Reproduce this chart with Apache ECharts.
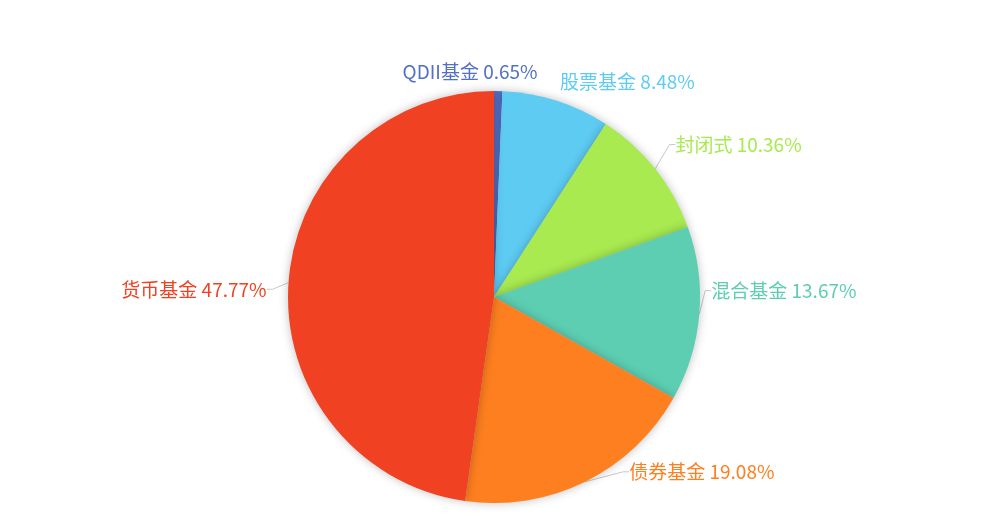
<!DOCTYPE html>
<html><head><meta charset="utf-8">
<script src="https://cdn.jsdelivr.net/npm/echarts@6/dist/echarts.min.js"></script>
<style>html,body{margin:0;padding:0;background:#fff}#c{width:1000px;height:521px}</style>
</head><body><div id="c"></div>
<script>
const categories = ['QDII基金', '股票基金', '封闭式', '混合基金', '债券基金', '货币基金'];
const values = [0.65, 8.48, 10.36, 13.67, 19.08, 47.77];
const colors = ['#5470c6', '#5ecbf3', '#a8ea50', '#5dceb2', '#fe7f1f', '#f04123'];
// label nudges (dx, dy) relative to ECharts' own outside-label placement
const labelNudgeX = [-107, -35, 0, -12, 25, 7];
const labelNudgeY = [-1, -12, -13, -25, -26, 8];
const labelLineVisible = [false, false, true, true, true, true];

const chart = echarts.init(document.getElementById('c'));
chart.setOption({
  backgroundColor: '#fff',
  color: colors,
  series: [{
    type: 'pie',
    center: [494, 297],
    radius: 206,
    startAngle: 90,
    clockwise: true,
    data: categories.map((n, i) => ({
      name: n,
      value: values[i],
      labelLine: { show: labelLineVisible[i] }
    })),
    itemStyle: { shadowBlur: 10, shadowColor: 'rgba(0,0,0,0.25)' },
    label: {
      formatter: p => p.name + ' ' + p.value.toFixed(2) + '%',
      fontSize: 19,
      fontFamily: 'Noto Sans CJK SC',
      color: 'inherit'
    },
    labelLine: { length: 18, length2: 6, lineStyle: { color: '#c8c8c8' } },
    labelLayout: function (p) {
      const i = p.dataIndex;
      return {
        x: p.labelRect.x + labelNudgeX[i],
        y: p.labelRect.y + labelNudgeY[i],
        align: 'left',
        verticalAlign: 'top'
      };
    }
  }]
});
</script></body></html>
